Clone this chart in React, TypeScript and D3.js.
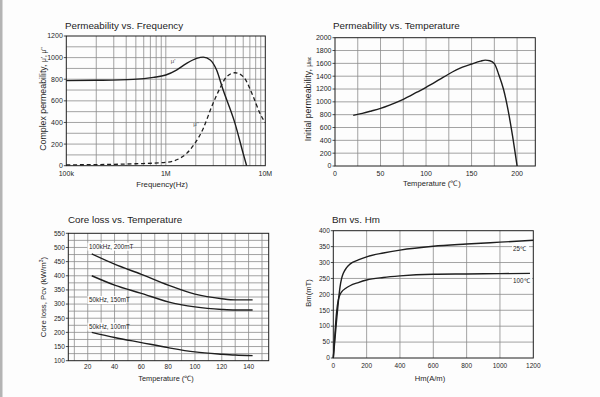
import React from 'react';
import * as d3 from 'd3';

const FONT = '"Liberation Sans", Arial, Helvetica, sans-serif';

// ---- Chart 1: Permeability vs. Frequency ----
const freqMuReal = [1e5, 2e5, 4.7e5, 7.5e5, 1e6, 1.28e6, 1.62e6, 2.04e6, 2.38e6, 2.8e6, 3.24e6, 3.72e6, 4.96e6, 6.0e6, 6.49e6];
const muReal = [787, 790, 799, 817, 839, 885, 947, 993, 1005, 978, 885, 716, 392, 112, 0];
const freqMuImag = [1e5, 2e5, 5e5, 1e6, 1.38e6, 1.62e6, 1.96e6, 2.38e6, 2.89e6, 3.5e6, 4.09e6, 4.96e6, 6.0e6, 7.57e6, 8.84e6, 1e7];
const muImag = [8, 10, 18, 31, 68, 114, 207, 345, 546, 716, 824, 860, 824, 639, 484, 398];
const freqTicks = [1e5, 1e6, 1e7];
const freqTickLabels = ['100k', '1M', '10M'];
const muTicks = [0, 200, 400, 600, 800, 1000, 1200];

// ---- Chart 2: Permeability vs. Temperature ----
const tempPerm = [20, 30, 40, 50, 60, 75, 90, 100, 115, 125, 140, 150, 160, 165, 170, 175, 180, 185, 190, 195, 200];
const permInit = [790, 820, 858, 899, 950, 1039, 1150, 1226, 1350, 1434, 1540, 1590, 1635, 1650, 1640, 1595, 1420, 1200, 880, 470, 0];
const permTicks = [0, 200, 400, 600, 800, 1000, 1200, 1400, 1600, 1800, 2000];
const tempTicks2 = [0, 50, 100, 150, 200];

// ---- Chart 3: Core loss vs. Temperature ----
const tempLoss = [23, 40, 60, 80, 100, 120, 130, 143];
const loss100k200 = [477, 441, 405, 367, 335, 319, 315, 315];
const loss50k150 = [400, 367, 338, 308, 290, 281, 279, 279];
const loss50k100 = [200, 182, 164, 146, 131, 123, 120, 118];
const lossTicks = [100, 150, 200, 250, 300, 350, 400, 450, 500, 550];
const tempTicks3 = [20, 40, 60, 80, 100, 120, 140];
const lossLabels = ['100kHz, 200mT', '50kHz, 150mT', '50kHz, 100mT'];

// ---- Chart 4: Bm vs. Hm ----
const hm25 = [0, 10, 20, 30, 40, 50, 60, 80, 100, 150, 200, 300, 400, 600, 800, 1000, 1200];
const bm25 = [0, 60, 120, 175, 222, 250, 266, 284, 295, 308, 318, 330, 339, 351, 358, 364, 370];
const hm100 = [0, 10, 20, 30, 40, 50, 75, 100, 150, 200, 300, 400, 600, 800, 1000, 1180];
const bm100 = [0, 78, 145, 183, 199, 208, 219, 227, 237, 245, 253, 258, 263, 264, 265, 266];
const bmTicks = [0, 50, 100, 150, 200, 250, 300, 350, 400];
const hmTicks = [0, 200, 400, 600, 800, 1000, 1200];
const bmLabels = ['25\u2103', '100\u2103'];

const DEG = '\u2103';
const GRID = '#8c8c8c';
const INK = '#1e1e1e';

type Tick = { v: number; label: string };

function Frame(props: {
  x: any; y: any;
  xGrid: number[]; yGrid: number[];
  xTicks: Tick[]; yTicks: Tick[];
  tickSize: number; xTickDy: number;
}) {
  const { x, y } = props;
  const [x0, x1] = x.range();
  const [y0, y1] = y.range();
  return (
    <g>
      {props.xGrid.map((v, i) => (
        <line key={'xg' + i} x1={x(v)} x2={x(v)} y1={y0} y2={y1} stroke={GRID} strokeWidth={0.8} />
      ))}
      {props.yGrid.map((v, i) => (
        <line key={'yg' + i} x1={x0} x2={x1} y1={y(v)} y2={y(v)} stroke={GRID} strokeWidth={0.8} />
      ))}
      <rect x={x0} y={y1} width={x1 - x0} height={y0 - y1} fill="none" stroke={INK} strokeWidth={1} />
      {props.yTicks.map((t, i) => (
        <g key={'yt' + i}>
          <line x1={x0 - 2.5} x2={x0} y1={y(t.v)} y2={y(t.v)} stroke={INK} strokeWidth={0.8} />
          <text x={x0 - 3.5} y={y(t.v)} dy="0.35em" textAnchor="end" fontSize={props.tickSize} fontFamily={FONT} fill={INK}>{t.label}</text>
        </g>
      ))}
      {props.xTicks.map((t, i) => (
        <text key={'xt' + i} x={x(t.v)} y={y0 + props.xTickDy} textAnchor="middle" fontSize={props.tickSize} fontFamily={FONT} fill={INK}>{t.label}</text>
      ))}
    </g>
  );
}

function pathOf(xs: number[], ys: number[], x: any, y: any) {
  const pts = xs.map((v, i) => [x(v), y(ys[i])] as [number, number]);
  return d3.line().curve(d3.curveMonotoneX)(pts) || '';
}

function Title(p: { x: number; y: number; text: string }) {
  return <text x={p.x} y={p.y} fontSize={9.8} fontFamily={FONT} fill={INK}>{p.text}</text>;
}

export default function App() {
  // Chart 1
  const x1 = d3.scaleLog().domain([1e5, 1e7]).range([66.3, 265.3]);
  const y1 = d3.scaleLinear().domain([0, 1200]).range([165.7, 36]);
  const xGrid1: number[] = [];
  [1e5, 1e6].forEach((d) => { for (let k = 2; k <= 9; k++) xGrid1.push(d * k); });
  xGrid1.push(1e6);
  const yGrid1 = d3.range(100, 1200, 100);

  // Chart 2
  const x2 = d3.scaleLinear().domain([0, 220]).range([335, 535.3]);
  const y2 = d3.scaleLinear().domain([0, 2000]).range([166, 37.7]);
  const xGrid2 = d3.range(25, 201, 25);
  const yGrid2 = d3.range(200, 2000, 200);

  // Chart 3
  const x3 = d3.scaleLinear().domain([5.5, 155]).range([68.3, 268.7]);
  const y3 = d3.scaleLinear().domain([100, 550]).range([360.7, 233.3]);
  const xGrid3 = d3.range(10, 151, 10);
  const yGrid3 = d3.range(125, 550, 25);

  // Chart 4
  const x4 = d3.scaleLinear().domain([0, 1200]).range([333.3, 533.3]);
  const y4 = d3.scaleLinear().domain([0, 400]).range([358, 230.7]);
  const xGrid4 = d3.range(200, 1200, 200);
  const yGrid4 = d3.range(50, 400, 50);

  const lossSeries = [loss100k200, loss50k150, loss50k100];
  const lossLabelY = [246.7, 300, 326.7];

  return (
    <svg width={600} height={397} style={{ position: 'absolute', left: 0, top: 0, background: '#fff' }}>
      <rect x={0} y={0} width={600} height={397} fill="#fdfdfd" />
      <rect x={0} y={0} width={2.5} height={397} fill="#b4b4b4" />

      {/* Chart 1 */}
      <Title x={65} y={28.7} text="Permeability vs. Frequency" />
      <Frame x={x1} y={y1} xGrid={xGrid1} yGrid={yGrid1}
        xTicks={freqTicks.map((v, i) => ({ v, label: freqTickLabels[i] }))}
        yTicks={muTicks.map((v) => ({ v, label: String(v) }))}
        tickSize={7} xTickDy={10.3} />
      <path d={pathOf(freqMuReal, muReal, x1, y1)} fill="none" stroke={INK} strokeWidth={1.4} />
      <path d={pathOf(freqMuImag, muImag, x1, y1)} fill="none" stroke={INK} strokeWidth={1.3} strokeDasharray="4,2.8" />
      <text x={173} y={61} dy="0.35em" textAnchor="middle" fontSize={6} fontFamily={FONT} fill="#555">{"\u03bc'"}</text>
      <text x={196} y={124} dy="0.35em" textAnchor="middle" fontSize={6} fontFamily={FONT} fill="#555">{"\u03bc''"}</text>
      <text x={162} y={186.5} textAnchor="middle" fontSize={7.8} fontFamily={FONT} fill={INK}>Frequency(Hz)</text>
      <text transform="translate(46,99) rotate(-90)" textAnchor="middle" fontSize={8.8} fontFamily={FONT} fill={INK}>
        Complex permeability, <tspan fontSize={6.5}>{"\u03bc', \u03bc''"}</tspan>
      </text>

      {/* Chart 2 */}
      <Title x={333} y={28.7} text="Permeability vs. Temperature" />
      <Frame x={x2} y={y2} xGrid={xGrid2} yGrid={yGrid2}
        xTicks={tempTicks2.map((v) => ({ v, label: String(v) }))}
        yTicks={permTicks.map((v) => ({ v, label: String(v) }))}
        tickSize={7} xTickDy={9.5} />
      <path d={pathOf(tempPerm, permInit, x2, y2)} fill="none" stroke={INK} strokeWidth={1.4} />
      <text x={432} y={186} textAnchor="middle" fontSize={7.6} fontFamily={FONT} fill={INK}>{'Temperature (' + DEG + ')'}</text>
      <text transform="translate(311,99) rotate(-90)" textAnchor="middle" fontSize={8.8} fontFamily={FONT} fill={INK}>
        Initial permeability, <tspan fontSize={6.5}>{"\u03bc"}</tspan><tspan fontSize={4.8}>iac</tspan>
      </text>

      {/* Chart 3 */}
      <Title x={68} y={222.7} text="Core loss vs. Temperature" />
      <Frame x={x3} y={y3} xGrid={xGrid3} yGrid={yGrid3}
        xTicks={tempTicks3.map((v) => ({ v, label: String(v) }))}
        yTicks={lossTicks.map((v) => ({ v, label: String(v) }))}
        tickSize={6.5} xTickDy={8.2} />
      {lossSeries.map((s, i) => (
        <path key={'ls' + i} d={pathOf(tempLoss, s, x3, y3)} fill="none" stroke={INK} strokeWidth={1.4} />
      ))}
      {lossLabels.map((l, i) => (
        <g key={'ll' + i}>
          <rect x={87.5} y={lossLabelY[i] - 4} width={i === 0 ? 42 : 38.5} height={8} fill="#fdfdfd" />
          <text x={89} y={lossLabelY[i]} dy="0.35em" fontSize={6.3} fontFamily={FONT} fill={INK}>{l}</text>
        </g>
      ))}
      <text x={166} y={381} textAnchor="middle" fontSize={7.4} fontFamily={FONT} fill={INK}>{'Temperature (' + DEG + ')'}</text>
      <text transform="translate(45.5,297) rotate(-90)" textAnchor="middle" fontSize={7.8} fontFamily={FONT} fill={INK}>
        Core loss, Pcv (kW/m<tspan fontSize={5} dy="-2.5">3</tspan><tspan dy="2.5">)</tspan>
      </text>

      {/* Chart 4 */}
      <Title x={332} y={223} text="Bm vs. Hm" />
      <Frame x={x4} y={y4} xGrid={xGrid4} yGrid={yGrid4}
        xTicks={hmTicks.map((v) => ({ v, label: String(v) }))}
        yTicks={bmTicks.map((v) => ({ v, label: String(v) }))}
        tickSize={6.5} xTickDy={10} />
      <path d={pathOf(hm25, bm25, x4, y4)} fill="none" stroke={INK} strokeWidth={1.4} />
      <path d={pathOf(hm100, bm100, x4, y4)} fill="none" stroke={INK} strokeWidth={1.4} />
      <rect x={512} y={245} width={17} height={8} fill="#fdfdfd" />
      <text x={513} y={249} dy="0.35em" fontSize={6.3} fontFamily={FONT} fill={INK}>{bmLabels[0]}</text>
      <rect x={512} y={277} width={20} height={8} fill="#fdfdfd" />
      <text x={513} y={281} dy="0.35em" fontSize={6.3} fontFamily={FONT} fill={INK}>{bmLabels[1]}</text>
      <text x={430} y={380.5} textAnchor="middle" fontSize={7.6} fontFamily={FONT} fill={INK}>Hm(A/m)</text>
      <text transform="translate(310.5,293) rotate(-90)" textAnchor="middle" fontSize={7.6} fontFamily={FONT} fill={INK}>Bm(mT)</text>
    </svg>
  );
}
